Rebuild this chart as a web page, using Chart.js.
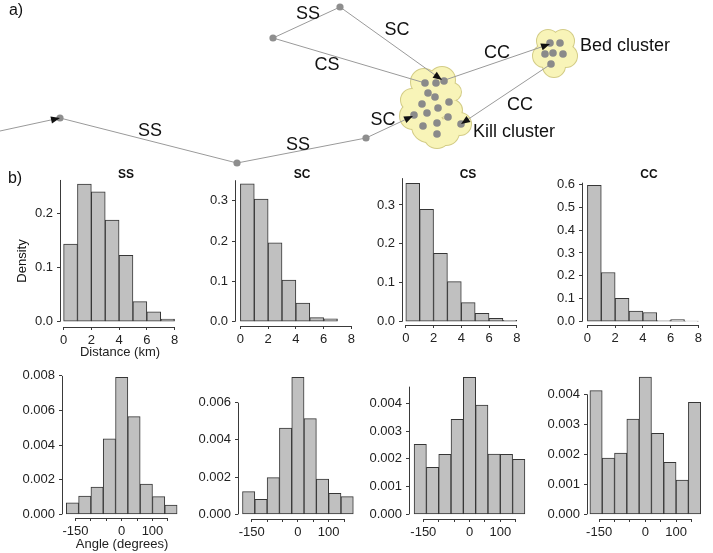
<!DOCTYPE html>
<html><head><meta charset="utf-8">
<script src="https://cdn.jsdelivr.net/npm/chart.js@4.4.1/dist/chart.umd.min.js"></script>
<style>
html,body{margin:0;padding:0;background:#fff;}
body{width:713px;height:553px;position:relative;overflow:hidden;font-family:"Liberation Sans",Arial,Helvetica,sans-serif;}
.box{position:absolute;}
.lbl{position:absolute;white-space:nowrap;color:#111;line-height:1;transform:translate(-50%,-50%);}
</style></head><body>
<div class="box" style="left:0;top:0;width:713px;height:168px"><canvas id="diag"></canvas></div>
<div class="lbl" style="left:16px;top:10px;font-size:16px;">a)</div>
<div class="lbl" style="left:15px;top:178px;font-size:16px;">b)</div>
<div class="lbl" style="left:126px;top:174px;font-size:12px;font-weight:bold;">SS</div>
<div class="lbl" style="left:302px;top:174px;font-size:12px;font-weight:bold;">SC</div>
<div class="lbl" style="left:468px;top:174px;font-size:12px;font-weight:bold;">CS</div>
<div class="lbl" style="left:649px;top:174px;font-size:12px;font-weight:bold;">CC</div>
<div class="lbl" style="left:21px;top:261px;font-size:13px;transform:translate(-50%,-50%) rotate(-90deg);">Density</div>
<script>
// ---------- panel b) data : histogram densities ----------
const distBins   = [0.5, 1.5, 2.5, 3.5, 4.5, 5.5, 6.5, 7.5];           // km, bin centres
const angleBins  = [-160, -120, -80, -40, 0, 40, 80, 120, 160];          // degrees, bin centres
const distTicks  = [0, 2, 4, 6, 8];
const distTickLabels = ['0', '2', '4', '6', '8'];
const angleTicks = [-150, -100, -50, 0, 50, 100, 150];
const angleTickLabels = ['-150', '', '', '0', '', '100', ''];

const ssDist = [0.143, 0.2535, 0.239, 0.187, 0.122, 0.037, 0.018, 0.005];
const scDist = [0.342, 0.304, 0.196, 0.103, 0.046, 0.010, 0.007, 0.0];
const csDist = [0.356, 0.289, 0.176, 0.103, 0.049, 0.0215, 0.0086, 0.0035];
const ccDist = [0.595, 0.215, 0.102, 0.046, 0.040, 0.005, 0.009, 0.002];

const ssAngle = [0.00067, 0.00106, 0.00158, 0.00436, 0.00792, 0.00565, 0.00175, 0.00102, 0.00054];
const scAngle = [0.00122, 0.00081, 0.00197, 0.00464, 0.00736, 0.00514, 0.00190, 0.00113, 0.00095];
const csAngle = [0.00252, 0.00169, 0.00216, 0.00342, 0.00494, 0.00394, 0.00217, 0.00216, 0.00198];
const ccAngle = [0.00412, 0.00187, 0.00204, 0.00317, 0.00457, 0.00270, 0.00173, 0.00114, 0.00373];

const ssDistTicks = [0, 0.1, 0.2];
const scDistTicks = [0, 0.1, 0.2, 0.3];
const csDistTicks = [0, 0.1, 0.2, 0.3];
const ccDistTicks = [0, 0.1, 0.2, 0.3, 0.4, 0.5, 0.6];
const ssAngleTicks = [0, 0.002, 0.004, 0.006, 0.008];
const scAngleTicks = [0, 0.002, 0.004, 0.006];
const csAngleTicks = [0, 0.001, 0.002, 0.003, 0.004];
const ccAngleTicks = [0, 0.001, 0.002, 0.003, 0.004];

// ---------- panel a) schematic (diagram units) ----------
const trailNodes = [[60,118],[237,163],[366,138],[273,38],[340,7]];
const killDots = [[425,83],[436,83],[444,81],[428,93],[435,97],[449,102],[422,104],[438,108],[414,115],[427,113],[448,117],[423,126],[437,123],[461,124],[437,134]];
const bedDots = [[550,43],[560,43],[545,54],[553,53],[563,54],[551,64]];
const moves = [
  {from:[0,131],   to:[60,118],  arrow:true},
  {from:[60,118],  to:[237,163], arrow:false},
  {from:[237,163], to:[366,138], arrow:false},
  {from:[366,138], to:[413,116], arrow:true},
  {from:[273,38],  to:[340,7],   arrow:false},
  {from:[340,7],   to:[442,80],  arrow:true},
  {from:[273,38],  to:[425,83],  arrow:false},
  {from:[445,80],  to:[550,44],  arrow:true},
  {from:[551,64],  to:[461,124], arrow:true}
];
const moveLabels = [['SS',308,14],['SC',397,30],['CS',327,65],['CC',497,53],['CC',520,105],['SS',150,131],['SS',298,145],['SC',383,120]];
const clusterLabels = [['Bed cluster',580,46],['Kill cluster',473,132]];
const killBlob = [[424,82,13],[442,80,13],[452,92,9],[412,100,11],[436,100,18],[413,116,13],[428,126,16],[446,132,13],[460,124,11],[452,110,10],[437,135,13]];
const bedBlob = [[548,41,11],[563,41,11],[544,56,11],[566,56,11],[554,66,11],[555,52,14]];

const FONT = '"Liberation Sans", Arial, Helvetica, sans-serif';
Chart.defaults.font.family = FONT;
Chart.defaults.color = '#222';

const pts = a => a.map(([x,y]) => ({x, y}));
const blobPts = killBlob.concat(bedBlob).map(([x,y,r]) => ({x, y, r}));

const diagramPlugin = {
  id: 'diagramDeco',
  afterDatasetsDraw(chart) {
    const {ctx, scales:{x, y}} = chart;
    ctx.save();
    ctx.fillStyle = '#111';
    moves.filter(m => m.arrow).forEach(m => {
      const x1 = x.getPixelForValue(m.from[0]), y1 = y.getPixelForValue(m.from[1]);
      const x2 = x.getPixelForValue(m.to[0]), y2 = y.getPixelForValue(m.to[1]);
      const a = Math.atan2(y2 - y1, x2 - x1), L = 9, W = 3.6;
      ctx.beginPath();
      ctx.moveTo(x2, y2);
      ctx.lineTo(x2 - L*Math.cos(a) + W*Math.sin(a), y2 - L*Math.sin(a) - W*Math.cos(a));
      ctx.lineTo(x2 - L*Math.cos(a) - W*Math.sin(a), y2 - L*Math.sin(a) + W*Math.cos(a));
      ctx.closePath(); ctx.fill();
    });
    ctx.font = '18px ' + FONT;
    ctx.textBaseline = 'middle';
    ctx.textAlign = 'center';
    moveLabels.forEach(([t,lx,ly]) => ctx.fillText(t, x.getPixelForValue(lx), y.getPixelForValue(ly)));
    ctx.textAlign = 'left';
    clusterLabels.forEach(([t,lx,ly]) => ctx.fillText(t, x.getPixelForValue(lx), y.getPixelForValue(ly)));
    ctx.restore();
  }
};

new Chart(document.getElementById('diag'), {
  type: 'scatter',
  data: {datasets: [
    {type:'bubble', data: blobPts, backgroundColor:'#d3cc86', borderColor:'#d3cc86', borderWidth:2, clip:false, order:5},
    {type:'bubble', data: blobPts, backgroundColor:'#f8f4b8', borderWidth:0, clip:false, order:4},
    ...moves.map(m => ({data: pts([m.from, m.to]), showLine:true, borderColor:'#9a9a9a', borderWidth:1, pointRadius:0, clip:false, order:3})),
    {data: pts(trailNodes), pointRadius:3.6, pointBackgroundColor:'#8e8e8e', pointBorderWidth:0, clip:false, order:2},
    {data: pts(killDots.concat(bedDots)), pointRadius:3.8, pointBackgroundColor:'#8a8a8a', pointBorderWidth:0, clip:false, order:1}
  ]},
  options: {
    responsive:true, maintainAspectRatio:false, animation:false, events:[],
    layout:{padding:0, autoPadding:false},
    plugins:{legend:{display:false}, tooltip:{enabled:false}},
    scales:{
      x:{type:'linear', min:0, max:713, display:false},
      y:{type:'linear', min:0, max:168, reverse:true, display:false}
    }
  },
  plugins:[diagramPlugin]
});

// ---------- histogram panels ----------
const rAxes = {
  id: 'rAxes',
  afterDraw(chart, args, o) {
    const {ctx, chartArea, scales:{x, y}} = chart;
    ctx.save();
    ctx.strokeStyle = '#3a3a3a'; ctx.lineWidth = 1;
    const xl = Math.round(chartArea.left) + 0.5;
    ctx.beginPath(); ctx.moveTo(xl, y.getPixelForValue(0)); ctx.lineTo(xl, y.getPixelForValue(o.yTop)); ctx.stroke();
    const yb = Math.round(chartArea.bottom) + 0.5;
    ctx.beginPath(); ctx.moveTo(x.getPixelForValue(o.xFirst), yb); ctx.lineTo(x.getPixelForValue(o.xLast), yb); ctx.stroke();
    ctx.restore();
  }
};

const DIST = {bins:distBins, xt:distTicks, xl:distTickLabels, ux:13.87};
const ANG = {bins:angleBins, xt:angleTicks, xl:angleTickLabels, ux:0.3078};
const panels = [
  {...DIST, vals:ssDist, yt:ssDistTicks, dec:1, axisX:60,    x0:63.6,  y0:321.7, uy:543,   bottom:327, top:175, right:180, yTop:0.261, xTitle:'Distance (km)', tPad:1},
  {...DIST, vals:scDist, yt:scDistTicks, dec:1, axisX:235,   x0:240.4, y0:321.7, uy:403,   bottom:326, top:175, right:356, yTop:0.351},
  {...DIST, vals:csDist, yt:csDistTicks, dec:1, axisX:402,   x0:405.8, y0:321.7, uy:389,   bottom:325, top:175, right:522, yTop:0.369},
  {...DIST, vals:ccDist, yt:ccDistTicks, dec:1, axisX:582,   x0:587.4, y0:321.7, uy:229,   bottom:325, top:175, right:706, yTop:0.607},
  {...ANG,  vals:ssAngle, yt:ssAngleTicks, dec:3, axisX:62,  x0:121.7, y0:514.3, uy:17300, bottom:518, top:368, right:182, yTop:0.008, xTitle:'Angle (degrees)', tPad:0},
  {...ANG,  vals:scAngle, yt:scAngleTicks, dec:3, axisX:238, x0:297.9, y0:514.3, uy:18600, bottom:519, top:368, right:358, yTop:0.006},
  {...ANG,  vals:csAngle, yt:csAngleTicks, dec:3, axisX:409, x0:469.5, y0:514.3, uy:27750, bottom:519, top:368, right:530, yTop:0.0046},
  {...ANG,  vals:ccAngle, yt:ccAngleTicks, dec:3, axisX:587, x0:645.3, y0:514.3, uy:30000, bottom:519, top:368, right:706, yTop:0.004}
];

function makeHist(p) {
  const yW = 50, xH = 34, pT = 6, pR = 4;
  const L = p.axisX, R = p.right, T = p.top, B = p.bottom;
  const div = document.createElement('div');
  div.className = 'box';
  div.style.left = (L - yW) + 'px';
  div.style.top = (T - pT) + 'px';
  div.style.width = (yW + R - L + pR) + 'px';
  div.style.height = (pT + B - T + xH) + 'px';
  const cv = document.createElement('canvas');
  div.appendChild(cv);
  document.body.appendChild(div);
  const zeroPad = s => { s.paddingLeft = 0; s.paddingRight = 0; s.paddingTop = 0; s.paddingBottom = 0; };
  new Chart(cv, {
    type: 'bar',
    data: {datasets: [{
      data: p.bins.map((b, i) => ({x: b, y: p.vals[i]})),
      backgroundColor: '#c0c0c0', borderColor: '#363636', borderWidth: 1, borderSkipped: false,
      barPercentage: 1, categoryPercentage: 1
    }]},
    options: {
      responsive: true, maintainAspectRatio: false, animation: false, events: [],
      layout: {padding: {top: pT, right: pR, left: 0, bottom: 0}, autoPadding: false},
      plugins: {legend: {display: false}, tooltip: {enabled: false},
                rAxes: {yTop: p.yTop, xFirst: p.xt[0], xLast: p.xt[p.xt.length - 1]}},
      scales: {
        x: {
          type: 'linear', position: 'bottom', offset: false, bounds: 'data',
          min: (L - p.x0) / p.ux, max: (R - p.x0) / p.ux,
          afterFit: s => { s.height = xH; zeroPad(s); },
          afterBuildTicks: s => { s.ticks = p.xt.map(v => ({value: v})); },
          ticks: {autoSkip: false, maxRotation: 0, minRotation: 0, padding: 3, color: '#222',
                  font: {size: 13}, callback: (v, i) => p.xl[i]},
          grid: {display: true, drawOnChartArea: false, drawTicks: true, tickLength: 3, color: '#3a3a3a', offset: false},
          border: {display: false},
          title: {display: !!p.xTitle, text: p.xTitle || '', color: '#222', font: {size: 13},
                  padding: {top: 0, bottom: p.tPad || 0}}
        },
        y: {
          type: 'linear', position: 'left', bounds: 'data',
          min: -(B - p.y0) / p.uy, max: (p.y0 - T) / p.uy,
          afterFit: s => { s.width = yW; zeroPad(s); },
          afterBuildTicks: s => { s.ticks = p.yt.map(v => ({value: v})); },
          ticks: {autoSkip: false, padding: 4, color: '#222', font: {size: 13},
                  callback: v => Number(v).toFixed(p.dec)},
          grid: {display: true, drawOnChartArea: false, drawTicks: true, tickLength: 3, color: '#3a3a3a'},
          border: {display: false}
        }
      }
    },
    plugins: [rAxes]
  });
}
panels.forEach(makeHist);
</script>
</body></html>
